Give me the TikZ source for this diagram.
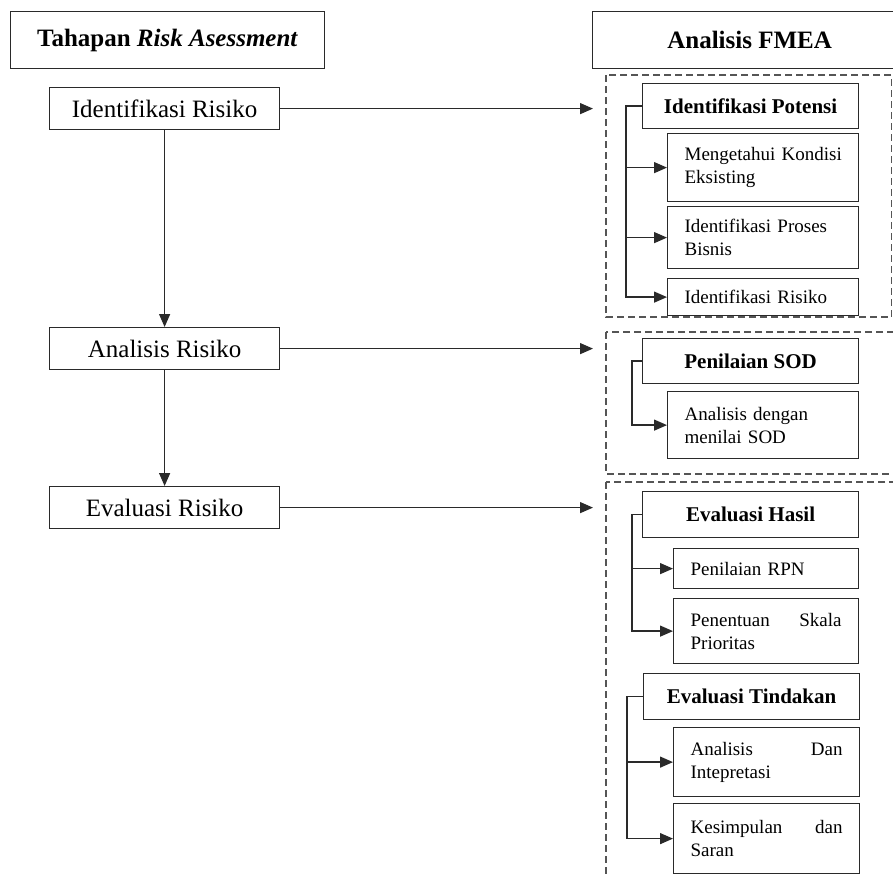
\documentclass[tikz,border=0pt]{standalone}
\usepackage{fontspec}
\setmainfont{Liberation Serif}
\usetikzlibrary{arrows.meta}
\hyphenpenalty=10000
\exhyphenpenalty=10000
\definecolor{lc}{HTML}{2A2A2A}
\definecolor{dc}{HTML}{555555}
\tikzset{
  box/.style={draw=lc, line width=1.2pt, inner sep=0pt, anchor=north west, align=center},
  bigtxt/.style={font=\fontsize{25}{30}\selectfont},
  hdrtxt/.style={font=\bfseries\fontsize{25}{30}\selectfont},
  subhdr/.style={box, minimum width=216pt, minimum height=45pt, font=\bfseries\fontsize{21}{25}\selectfont},
  item/.style={box, inner xsep=17pt, align=left, font=\fontsize{19}{23}\selectfont},
  arr/.style={draw=lc, line width=1.3pt, -{Triangle[length=13pt,width=11pt]}},
  brk/.style={draw=lc, line width=1.3pt, -{Triangle[length=13pt,width=11pt]}},
  dbox/.style={draw=dc, line width=1.3pt, dash pattern=on 7pt off 4pt},
}
\begin{document}
\begin{tikzpicture}[x=1pt, y=-1pt]
\clip (0,0) rectangle (893,876);
\fill[white] (0,0) rectangle (893,876);

% headers
\node[box, hdrtxt, minimum width=314pt, minimum height=57pt] (hl) at (10,11) {Tahapan \textit{Risk Asessment}};
\node[box, hdrtxt, minimum width=314pt, minimum height=57pt] (hr) at (592,11) {Analisis FMEA};

% left stages
\node[box, bigtxt, minimum width=230pt, minimum height=42pt] (ir) at (49,87) {Identifikasi Risiko};
\node[box, bigtxt, minimum width=230pt, minimum height=42pt] (ar) at (49,327) {Analisis Risiko};
\node[box, bigtxt, minimum width=230pt, minimum height=42pt] (er) at (49,486) {Evaluasi Risiko};

% dashed groups
\draw[dbox] (606,75) rectangle (891.5,317);
\draw[dbox] (606,332) rectangle (905,474);
\draw[dbox] (606,482) rectangle (905,900);

% group 1
\node[subhdr] (ip) at (642,83) {Identifikasi Potensi};
\node[item, text width=157pt, minimum height=68pt] (c11) at (667,133) {\mbox{Mengetahui Kondisi}\\Eksisting};
\node[item, text width=157pt, minimum height=62pt] (c12) at (667,206) {\mbox{Identifikasi Proses}\\Bisnis};
\node[item, text width=157pt, minimum height=37pt] (c13) at (667,278) {\mbox{Identifikasi Risiko}};

% group 2
\node[subhdr] (ps) at (642,338) {Penilaian SOD};
\node[item, text width=157pt, minimum height=67pt] (c21) at (667,391) {\mbox{Analisis dengan}\\menilai SOD};

% group 3a
\node[subhdr, minimum height=46pt] (eh) at (642,491) {Evaluasi Hasil};
\node[item, text width=151pt, minimum height=40pt] (c31) at (673,548) {Penilaian RPN};
\node[item, text width=151pt, minimum height=65pt] (c32) at (673,598) {Penentuan\hfill Skala\\Prioritas};

% group 3b
\node[subhdr, minimum height=46pt] (et) at (643,673) {Evaluasi Tindakan};
\node[item, text width=152pt, minimum height=69pt] (c41) at (673,727) {Analisis\hfill Dan\\Intepretasi};
\node[item, text width=152pt, minimum height=70pt] (c42) at (673,803) {Kesimpulan\hfill dan\\Saran};

% main connectors
\coordinate (tip) at (593,0);
\draw[arr] (ir.south) -- (ar.north);
\draw[arr] (ar.south) -- (er.north);
\draw[arr] (ir.east) -- (ir.east -| tip);
\draw[arr] (ar.east) -- (ar.east -| tip);
\draw[arr] (er.east) -- (er.east -| tip);

% brackets
\draw[brk] (ip.west) -- ++(-16,0) coordinate (b1) |- (c13.west);
\draw[brk] (b1 |- c11.west) -- (c11.west);
\draw[brk] (b1 |- c12.west) -- (c12.west);
\draw[brk] (ps.west) -- ++(-10,0) |- (c21.west);
\draw[brk] (eh.west) -- ++(-10,0) coordinate (b3) |- (c32.west);
\draw[brk] (b3 |- c31.west) -- (c31.west);
\draw[brk] (et.west) -- ++(-16,0) coordinate (b4) |- (c42.west);
\draw[brk] (b4 |- c41.west) -- (c41.west);
\end{tikzpicture}
\end{document}
